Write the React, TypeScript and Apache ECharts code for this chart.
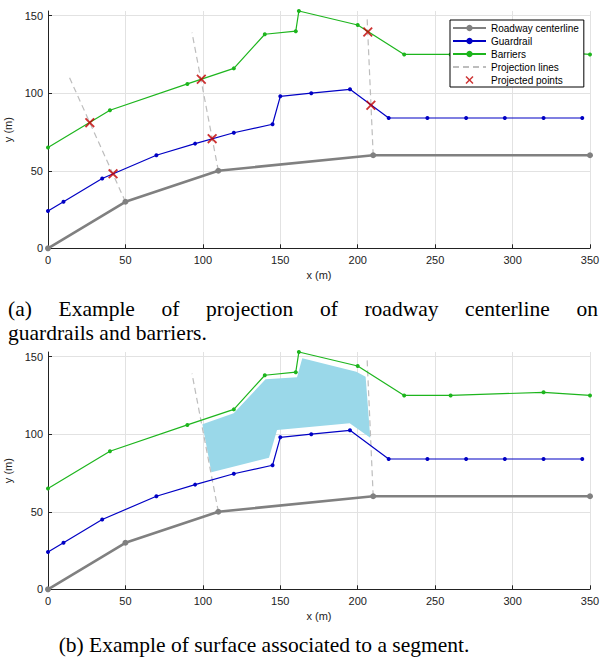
import React, { useEffect, useRef } from "react";
import * as echarts from "echarts";

// ---------- data ----------
const centerline: number[][] = [[0, 0], [50, 30], [110, 50], [210, 60], [350, 60]];
const guardrail: number[][] = [
  [0, 24], [10, 30], [35, 45], [70, 60], [95, 67.5], [120, 74.5], [145, 80], [150, 98],
  [170, 100], [195, 102.5], [220, 84], [245, 84], [270, 84], [295, 84], [320, 84], [345, 84],
];
const barriers: number[][] = [
  [0, 65], [40, 89], [90, 106], [120, 116], [140, 138], [160, 140], [162, 153], [200, 144],
  [230, 125], [260, 125], [320, 127], [350, 125],
];
const projLineA: number[][] = [[50, 30], [13, 112]];
const projLineB: number[][] = [[110, 50], [93, 139]];
const projLineC: number[][] = [[210, 60], [206, 150]];
const projectedPoints: number[][] = [
  [27, 81], [42, 48], [99, 109], [106, 70.7], [206.5, 139.5], [208.5, 92.2],
];
const surface: number[][] = [
  [99.7, 106.4], [119.9, 113.5], [140.5, 135.4], [160.8, 136.7], [164.2, 148.9],
  [199.1, 140.3], [205.1, 137.1], [208.1, 97.7], [194.8, 107], [147.9, 102.7],
  [142.7, 84.8], [105.5, 75.4],
];
const xTicks = { min: 0, max: 350, interval: 50 };
const yTicks = { min: 0, max: 153, interval: 50 };
const legendNames = ["Roadway centerline", "Guardrail", "Barriers", "Projection lines", "Projected points"];
const captionA1 = ["(a)", "Example", "of", "projection", "of", "roadway", "centerline", "on"];
const captionA2 = "guardrails and barriers.";
const captionB = "(b) Example of surface associated to a segment.";

// ---------- styles ----------
const C_GRAY = "#808080";
const C_BLUE = "#0000c4";
const C_GREEN = "#1db51d";
const C_DASH = "#bdbdbd";
const C_RED = "#c00000";
const C_SURF = "#9ad8e9";
const SANS = "'Liberation Sans', Arial, sans-serif";
const SERIF = "'Liberation Serif', 'Times New Roman', serif";
const XPATH = "path://M0,1.3L1.3,0L5,3.7L8.7,0L10,1.3L6.3,5L10,8.7L8.7,10L5,6.3L1.3,10L0,8.7L3.7,5Z";

function justify(words: string[], x0: number, x1: number, font: string) {
  const ctx = document.createElement("canvas").getContext("2d")!;
  ctx.font = font;
  const w = words.map((s) => ctx.measureText(s).width);
  const total = w.reduce((a, b) => a + b, 0);
  const gap = (x1 - x0 - total) / (words.length - 1);
  const xs: number[] = [];
  let x = x0;
  for (let i = 0; i < words.length; i++) {
    xs.push(x);
    x += w[i] + gap;
  }
  return xs;
}

function axesFor(gridIndex: number) {
  const x = {
    type: "value",
    gridIndex,
    ...xTicks,
    name: "x (m)",
    nameLocation: "middle",
    nameGap: 21,
    nameTextStyle: { fontFamily: SANS, fontSize: 11, color: "#222" },
    axisLine: { show: true, onZero: false, lineStyle: { color: "#222", width: 1 } },
    axisTick: { show: true, inside: true, length: 4, lineStyle: { color: "#222" } },
    axisLabel: { fontFamily: SANS, fontSize: 11, color: "#222", margin: 6 },
    splitLine: { show: true, lineStyle: { color: "#e2e2e2", width: 1 } },
  };
  const y = {
    type: "value",
    gridIndex,
    ...yTicks,
    name: "y (m)",
    nameLocation: "middle",
    nameGap: 26,
    nameRotate: 90,
    nameTextStyle: { fontFamily: SANS, fontSize: 11, color: "#222" },
    axisLine: { show: true, onZero: false, lineStyle: { color: "#222", width: 1 } },
    axisTick: { show: true, inside: true, length: 4, lineStyle: { color: "#222" } },
    axisLabel: { fontFamily: SANS, fontSize: 11, color: "#222", margin: 5, showMaxLabel: false },
    splitLine: { show: true, showMaxLine: false, lineStyle: { color: "#e2e2e2", width: 1 } },
  };
  return { x, y };
}

function lineSeries(name: string, data: number[][], gi: number, color: string, width: number, sym: number, dashed = false) {
  return {
    type: "line",
    name,
    xAxisIndex: gi,
    yAxisIndex: gi,
    data,
    clip: false,
    symbol: sym > 0 ? "circle" : "none",
    symbolSize: sym,
    showSymbol: sym > 0,
    itemStyle: { color },
    lineStyle: dashed ? { color, width, type: [6, 4] } : { color, width },
    emphasis: { disabled: true },
  };
}

export default function App() {
  const ref = useRef<HTMLDivElement>(null);
  useEffect(() => {
    document.body.style.margin = "0";
    const chart = echarts.init(ref.current!, undefined, { renderer: "svg" });
    const a0 = axesFor(0);
    const a1 = axesFor(1);
    const capFont = `21.5px ${SERIF}`;
    const xs = justify(captionA1, 8, 598, capFont);

    const series: any[] = [
      lineSeries("Roadway centerline", centerline, 0, C_GRAY, 2.6, 6),
      lineSeries("Projection lines", projLineA, 0, C_DASH, 1.2, 0, true),
      lineSeries("Projection lines", projLineB, 0, C_DASH, 1.2, 0, true),
      lineSeries("Projection lines", projLineC, 0, C_DASH, 1.2, 0, true),
      lineSeries("Guardrail", guardrail, 0, C_BLUE, 1.2, 4),
      lineSeries("Barriers", barriers, 0, C_GREEN, 1.2, 4),
      {
        type: "scatter",
        name: "Projected points",
        xAxisIndex: 0,
        yAxisIndex: 0,
        data: projectedPoints,
        symbol: XPATH,
        symbolSize: 10,
        symbolKeepAspect: true,
        itemStyle: { color: C_RED },
        clip: false,
        z: 5,
      },
      // bottom chart
      lineSeries("Roadway centerline", centerline, 1, C_GRAY, 2.6, 6),
      lineSeries("Projection lines", projLineB, 1, C_DASH, 1.2, 0, true),
      lineSeries("Projection lines", projLineC, 1, C_DASH, 1.2, 0, true),
      {
        type: "custom",
        name: "surface",
        xAxisIndex: 1,
        yAxisIndex: 1,
        data: [[surface[0][0], surface[0][1]]],
        clip: false,
        renderItem: (_p: any, api: any) => ({
          type: "polygon",
          shape: { points: surface.map((p) => api.coord(p)) },
          style: { fill: C_SURF, stroke: "none" },
        }),
      },
      lineSeries("Guardrail", guardrail, 1, C_BLUE, 1.2, 4),
      lineSeries("Barriers", barriers, 1, C_GREEN, 1.2, 4),
    ];

    chart.setOption({
      animation: false,
      backgroundColor: "#fff",
      grid: [
        { left: 48, width: 542, top: 11, height: 237.3, containLabel: false, outerBoundsMode: "none" },
        { left: 48, width: 542, top: 352, height: 237.3, containLabel: false, outerBoundsMode: "none" },
      ],
      xAxis: [a0.x, a1.x],
      yAxis: [a0.y, a1.y],
      legend: {
        orient: "vertical",
        left: 450,
        top: 20,
        itemWidth: 33,
        itemHeight: 8,
        itemGap: 3,
        padding: [3, 5, 2, 2],
        backgroundColor: "#fff",
        borderColor: "#000",
        borderWidth: 1,
        borderRadius: 0,
        selectedMode: false,
        textStyle: { fontFamily: SANS, fontSize: 10, color: "#000", lineHeight: 10 },
        data: legendNames.map((n) =>
          n === "Projection lines" ? { name: n, itemStyle: { opacity: 0 } } : { name: n }
        ),
      },
      series,
      graphic: [
        ...captionA1.map((w, i) => ({
          type: "text",
          x: xs[i],
          y: 309,
          style: { text: w, font: capFont, fill: "#000", textVerticalAlign: "middle" },
        })),
        {
          type: "text",
          x: 8,
          y: 333,
          style: { text: captionA2, font: capFont, fill: "#000", textVerticalAlign: "middle" },
        },
        {
          type: "text",
          x: 264,
          y: 645,
          style: { text: captionB, font: capFont, fill: "#000", textAlign: "center", textVerticalAlign: "middle" },
        },
      ],
    });
    return () => chart.dispose();
  }, []);
  return <div ref={ref} style={{ width: 600, height: 660 }} />;
}
